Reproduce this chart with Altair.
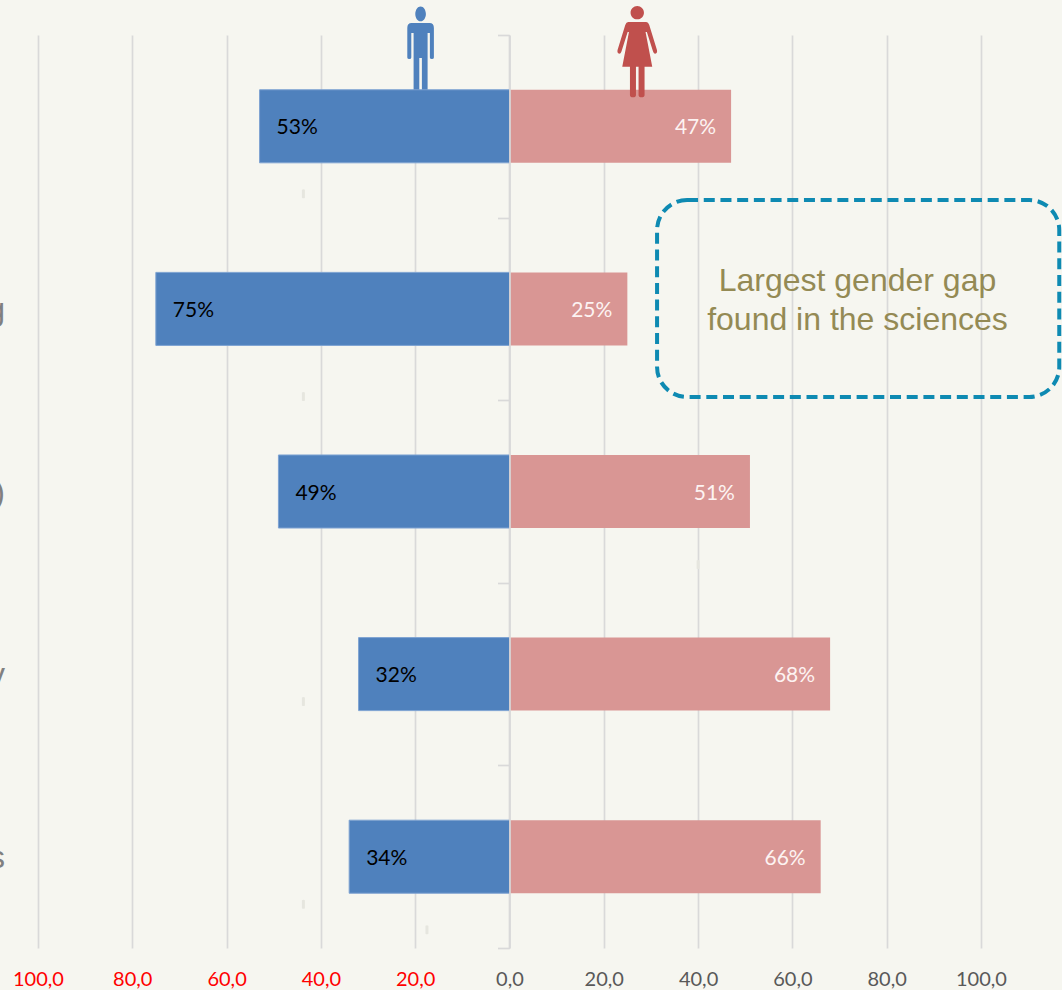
import altair as alt
import pandas as pd

# Share of each gender per subject row, top to bottom
rows = [0, 1, 2, 3, 4]
male = [53, 75, 49, 32, 34]
female = [47, 25, 51, 68, 66]
row_tail = ["", "g", ")", "y", "s"]  # end of each row name, the rest runs off the left edge
ticks = [-100, -80, -60, -40, -20, 0, 20, 40, 60, 80, 100]
y_ticks = [0, 1, 2, 3, 4, 5]

note_lines = ["Largest gender gap", "found in the sciences"]
note_line_rows = [1.347, 1.56]
note_center = 73.8
note_box = [31.3, 116.6, 0.904, 1.982]  # x, x2 (percent) and y, y2 (rows)

# Faint flecks in the paper
speck_x = [-43.7, -43.7, -43.7, -43.7, -17.5, 40.0]
speck_y = [0.87, 1.98, 3.65, 4.76, 4.9, 2.9]

BG = "#f6f6f0"
BLUE = "#4f81bd"
PINK = "#d99694"
RED = "#c0504d"
GRID = "#d9d9d9"

MAN = (
    "M0,-43.5 C3,-43.5 5.3,-40 5.3,-36 C5.3,-32 3,-28.7 0,-28.7 C-3,-28.7 -5.3,-32 -5.3,-36 "
    "C-5.3,-40 -3,-43.5 0,-43.5 Z "
    "M-9,-27 L9,-27 Q13.3,-27 13.3,-22 L13.3,7.5 Q13.3,9 11.3,9 Q9.3,9 9.3,7.5 L9.3,-17 L7,-17 "
    "L7,40 L1.3,40 L1.3,8 L-1.3,8 L-1.3,40 L-7,40 L-7,-17 L-9.3,-17 L-9.3,7.5 Q-9.3,9 -11.3,9 "
    "Q-13.3,9 -13.3,7.5 L-13.3,-22 Q-13.3,-27 -9,-27 Z"
)
WOMAN = (
    "M0,-44 C3.7,-44 6.7,-41 6.7,-37.3 C6.7,-33.6 3.7,-30.6 0,-30.6 C-3.7,-30.6 -6.7,-33.6 -6.7,-37.3 "
    "C-6.7,-41 -3.7,-44 0,-44 Z "
    "M-9,-28 L9,-28 Q11,-28 12,-25 L19.7,0 Q20.4,3 18,3.7 Q16.5,3.7 15.8,1.5 L9.6,-18 L8.3,-18 "
    "L15,16.7 L7.3,16.7 L7.3,45 Q7.3,47.3 4.3,47.3 Q1.3,47.3 1.3,45 L1.3,16.7 L-1.3,16.7 L-1.3,45 "
    "Q-1.3,47.3 -4.3,47.3 Q-7.3,47.3 -7.3,45 L-7.3,16.7 L-15,16.7 L-8.3,-18 L-9.6,-18 L-15.8,1.5 "
    "Q-16.5,3.7 -18,3.7 Q-20.4,3 -19.7,0 L-12,-25 Q-11,-28 -9,-28 Z"
)

x_scale = alt.Scale(domain=[-108.05, 117.18], nice=False, zero=False)
y_scale = alt.Scale(domain=[0, 5], reverse=True, nice=False, zero=False)

x_axis = alt.Axis(
    values=ticks,
    title=None,
    grid=True,
    gridColor=GRID,
    gridWidth=1.7,
    domain=False,
    ticks=False,
    labelPadding=21,
    labelFont="Lato",
    labelFontSize=20,
    labelFlush=False,
    labelExpr="replace(format(abs(datum.value), '.1f'), '.', ',')",
    labelColor={"condition": {"test": "datum.value < 0", "value": "#ff0000"}, "value": "#595959"},
)
y_axis = alt.Axis(
    values=y_ticks,
    title=None,
    grid=False,
    labels=False,
    offset=-509.5,
    domainColor=GRID,
    domainWidth=1.7,
    tickColor=GRID,
    tickWidth=1.7,
    tickSize=12,
    zindex=1,
)

df = pd.DataFrame({"row": rows, "male": male, "female": female, "tail": row_tail})
df["male_x"] = [-v for v in male]
df["zero"] = 0
df["mid"] = [r + 0.5 for r in rows]
df["top"] = [r + 0.3 for r in rows]
df["bottom"] = [r + 0.7 for r in rows]
df["male_label"] = [f"{v}%" for v in male]
df["female_label"] = [f"{v}%" for v in female]
base = alt.Chart(df)

X = lambda f: alt.X(f, type="quantitative", scale=x_scale, title=None)
Y = lambda f: alt.Y(f, type="quantitative", scale=y_scale, title=None)

# The first layer carries both axes, so grid lines sit under everything else
specks = alt.Chart(pd.DataFrame({"x": speck_x, "y": speck_y})).mark_point(
    shape="M-1.5,-4 Q0,-5 1.5,-4 L1.5,4 Q0,5 -1.5,4 Z", filled=True, size=4, color="#e6e6df", opacity=1
).encode(
    x=alt.X("x:Q", scale=x_scale, axis=x_axis),
    y=alt.Y("y:Q", scale=y_scale, axis=y_axis),
)

# Drawn before the bars so the male figure's legs vanish behind them
man = alt.Chart(pd.DataFrame({"x": [-18.85], "y": [0.082]})).mark_point(
    shape=MAN, filled=True, size=4, color=BLUE, opacity=1
).encode(x=X("x"), y=Y("y"))

male_bars = base.mark_bar(color=BLUE, stroke="#7ea3d2", strokeWidth=1).encode(
    x=X("male_x"), x2=alt.X2("zero:Q"), y=Y("top"), y2=alt.Y2("bottom:Q")
)
female_bars = base.mark_bar(color=PINK).encode(
    x=X("zero"), x2=alt.X2("female:Q"), y=Y("top"), y2=alt.Y2("bottom:Q")
)

woman = alt.Chart(pd.DataFrame({"x": [27.1], "y": [0.082]})).mark_point(
    shape=WOMAN, filled=True, size=4, color=RED, opacity=1
).encode(x=X("x"), y=Y("y"))

male_text = base.mark_text(
    align="left", dx=17, dy=2, font="Lato", fontSize=21, color="#000000"
).encode(x=X("male_x"), y=Y("mid"), text="male_label:N")
female_text = base.mark_text(
    align="right", dx=-15, dy=2, font="Lato", fontSize=21, color="#fdf3f2"
).encode(x=X("female"), y=Y("mid"), text="female_label:N")

tails = base.mark_text(
    align="right", dy=1, font="Liberation Sans", fontSize=32, color="#808080"
).encode(x=alt.value(5), y=Y("mid"), text="tail:N")

note_frame = alt.Chart(
    pd.DataFrame({"x": [note_box[0]], "x2": [note_box[1]], "y": [note_box[2]], "y2": [note_box[3]]})
).mark_rect(
    fillOpacity=0,
    stroke="#0e8ab2",
    strokeWidth=4,
    strokeDash=[11, 5.7],
    cornerRadius=30,
).encode(x=X("x"), x2=alt.X2("x2:Q"), y=Y("y"), y2=alt.Y2("y2:Q"))

note_text = alt.Chart(
    pd.DataFrame({"x": [note_center] * 2, "y": note_line_rows, "t": note_lines})
).mark_text(font="Liberation Sans", fontSize=32, color="#948a54").encode(
    x=X("x"), y=Y("y"), text="t:N"
)

chart = (
    alt.layer(specks, man, male_bars, female_bars, woman, male_text, female_text, tails, note_frame, note_text)
    .properties(
        width=1062,
        height=913,
        padding={"left": 0, "right": 0, "top": 35, "bottom": 42},
        autosize=alt.AutoSizeParams(type="none"),
        background=BG,
    )
    .configure_view(stroke=None)
)

chart.save("out.html", embed_options={"renderer": "svg", "actions": False})
